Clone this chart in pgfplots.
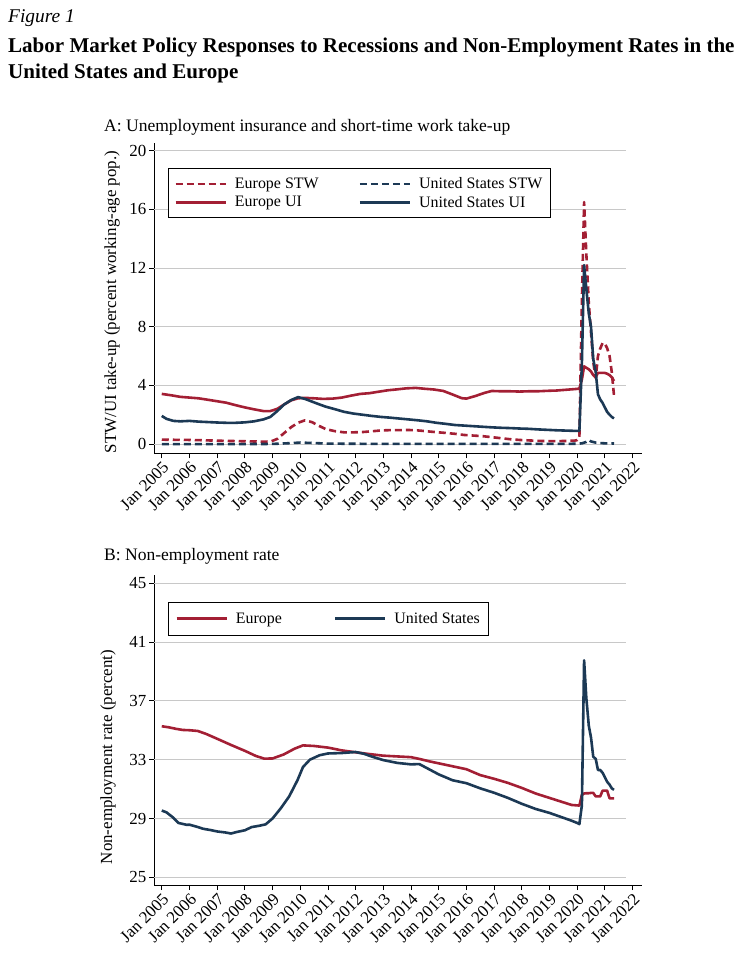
\documentclass[border=0pt]{standalone}
\usepackage{fontspec}
\setmainfont{Liberation Serif}
\usepackage{pgfplots}
\pgfplotsset{compat=1.18}
\definecolor{eured}{RGB}{163,31,52}
\definecolor{usnavy}{RGB}{28,57,85}
\definecolor{gridc}{RGB}{200,200,200}

\pgfplotstableread{
x y
2005.00 0.30
2005.50 0.29
2006.00 0.28
2006.50 0.26
2007.00 0.23
2007.50 0.21
2008.00 0.19
2008.50 0.17
2008.92 0.16
2009.17 0.35
2009.42 0.75
2009.67 1.15
2009.92 1.45
2010.17 1.62
2010.42 1.50
2010.67 1.25
2010.92 1.02
2011.25 0.88
2011.58 0.80
2011.92 0.80
2012.25 0.82
2012.58 0.87
2012.92 0.93
2013.25 0.95
2013.58 0.95
2013.92 0.96
2014.25 0.93
2014.58 0.87
2014.92 0.81
2015.25 0.76
2015.58 0.70
2015.92 0.62
2016.25 0.58
2016.58 0.54
2016.92 0.47
2017.25 0.40
2017.58 0.33
2017.92 0.28
2018.25 0.25
2018.58 0.22
2018.92 0.20
2019.25 0.20
2019.58 0.21
2019.92 0.24
2020.00 0.27
2020.08 0.45
2020.17 9.80
2020.25 16.50
2020.33 13.00
2020.42 9.60
2020.50 7.60
2020.58 5.60
2020.67 4.50
2020.75 6.00
2020.83 6.50
2020.92 6.90
2021.00 6.85
2021.08 6.55
2021.17 6.00
2021.25 4.90
2021.33 3.30
}\eustw

\pgfplotstableread{
x y
2005.00 3.42
2005.33 3.33
2005.67 3.22
2006.00 3.17
2006.33 3.12
2006.67 3.02
2007.00 2.92
2007.33 2.82
2007.67 2.65
2008.00 2.50
2008.33 2.37
2008.67 2.25
2008.92 2.25
2009.17 2.40
2009.42 2.70
2009.67 2.98
2009.92 3.12
2010.17 3.15
2010.50 3.12
2010.83 3.08
2011.17 3.10
2011.50 3.17
2011.83 3.30
2012.17 3.42
2012.50 3.47
2012.83 3.57
2013.17 3.67
2013.50 3.73
2013.83 3.80
2014.17 3.83
2014.50 3.77
2014.83 3.72
2015.17 3.62
2015.50 3.38
2015.83 3.13
2016.00 3.10
2016.33 3.28
2016.67 3.50
2016.92 3.62
2017.25 3.60
2017.58 3.60
2017.92 3.58
2018.25 3.60
2018.58 3.60
2018.92 3.63
2019.25 3.65
2019.58 3.70
2019.92 3.75
2020.08 3.78
2020.17 4.40
2020.25 5.30
2020.33 5.20
2020.42 5.10
2020.50 4.95
2020.58 4.70
2020.67 4.55
2020.75 4.85
2020.83 4.85
2020.92 4.85
2021.00 4.85
2021.08 4.80
2021.17 4.70
2021.25 4.55
2021.33 4.30
}\euui

\pgfplotstableread{
x y
2005.00 0.00
2006.00 0.00
2007.00 0.00
2008.00 0.00
2009.00 0.01
2009.50 0.05
2010.00 0.10
2010.50 0.07
2011.00 0.03
2012.00 0.02
2013.00 0.01
2014.00 0.01
2015.00 0.01
2016.00 0.01
2017.00 0.01
2018.00 0.01
2019.00 0.01
2020.00 0.02
2020.17 0.05
2020.33 0.15
2020.42 0.27
2020.50 0.18
2020.67 0.10
2020.83 0.07
2021.00 0.05
2021.33 0.04
}\usstw

\pgfplotstableread{
x y
2005.00 1.92
2005.17 1.72
2005.42 1.58
2005.67 1.55
2006.00 1.58
2006.33 1.53
2006.67 1.50
2007.00 1.47
2007.33 1.45
2007.67 1.45
2008.00 1.48
2008.33 1.55
2008.67 1.68
2008.92 1.85
2009.17 2.25
2009.42 2.70
2009.67 3.00
2009.92 3.20
2010.17 3.08
2010.42 2.90
2010.67 2.72
2010.92 2.55
2011.25 2.38
2011.58 2.20
2011.92 2.08
2012.25 2.00
2012.58 1.92
2012.92 1.85
2013.25 1.80
2013.58 1.74
2013.92 1.68
2014.25 1.62
2014.58 1.55
2014.92 1.45
2015.25 1.38
2015.58 1.30
2015.92 1.26
2016.25 1.22
2016.58 1.18
2016.92 1.14
2017.25 1.11
2017.58 1.09
2017.92 1.06
2018.25 1.04
2018.58 1.00
2018.92 0.97
2019.25 0.94
2019.58 0.92
2019.92 0.90
2020.08 0.90
2020.17 5.50
2020.25 12.20
2020.33 10.60
2020.42 8.90
2020.50 8.00
2020.58 5.80
2020.67 4.90
2020.75 3.40
2020.83 3.05
2020.92 2.80
2021.00 2.50
2021.08 2.20
2021.17 2.00
2021.25 1.85
2021.33 1.75
}\usui

\pgfplotstableread{
x y
2005.00 35.27
2005.25 35.20
2005.50 35.10
2005.75 35.02
2006.00 35.00
2006.30 34.95
2006.60 34.75
2007.00 34.42
2007.50 34.00
2008.00 33.60
2008.40 33.25
2008.70 33.07
2009.00 33.08
2009.40 33.35
2009.80 33.75
2010.10 33.97
2010.50 33.93
2011.00 33.82
2011.50 33.63
2012.00 33.50
2012.50 33.38
2013.00 33.27
2013.50 33.22
2014.00 33.17
2014.30 33.05
2014.70 32.87
2015.00 32.75
2015.50 32.55
2016.00 32.35
2016.50 31.95
2017.00 31.70
2017.50 31.42
2018.00 31.08
2018.50 30.70
2019.00 30.40
2019.50 30.10
2019.80 29.92
2020.08 29.88
2020.17 30.60
2020.25 30.70
2020.33 30.72
2020.42 30.72
2020.50 30.74
2020.58 30.74
2020.67 30.50
2020.75 30.50
2020.83 30.50
2020.92 30.90
2021.00 30.90
2021.08 30.90
2021.17 30.37
2021.25 30.37
2021.33 30.37
}\eune

\pgfplotstableread{
x y
2005.00 29.54
2005.17 29.42
2005.40 29.08
2005.60 28.70
2005.90 28.57
2006.00 28.58
2006.25 28.45
2006.50 28.30
2006.75 28.22
2007.00 28.12
2007.30 28.05
2007.50 27.98
2007.70 28.08
2008.00 28.20
2008.25 28.42
2008.50 28.50
2008.75 28.60
2009.00 29.00
2009.30 29.70
2009.60 30.50
2009.90 31.60
2010.10 32.50
2010.35 33.00
2010.70 33.30
2011.00 33.42
2011.50 33.45
2012.00 33.52
2012.30 33.40
2012.60 33.20
2013.00 32.97
2013.50 32.78
2014.00 32.68
2014.30 32.70
2014.60 32.40
2015.00 32.00
2015.50 31.60
2016.00 31.40
2016.50 31.05
2017.00 30.75
2017.50 30.40
2018.00 30.00
2018.50 29.65
2019.00 29.38
2019.50 29.05
2019.80 28.85
2020.00 28.70
2020.08 28.62
2020.17 29.90
2020.25 39.75
2020.33 37.20
2020.42 35.30
2020.50 34.50
2020.58 33.20
2020.67 33.05
2020.75 32.30
2020.83 32.30
2020.92 32.10
2021.00 31.80
2021.08 31.50
2021.17 31.30
2021.25 31.05
2021.33 30.95
}\usne

\pgfplotsset{
  stata/.style={
    scale only axis,
    width=487.7bp,
    xmin=2004.72, xmax=2022.33,
    axis lines=left,
    axis line style={-, black, line width=0.8bp},
    tick style={black, line width=0.8bp},
    tick align=outside,
    major tick length=5bp,
    xtick={2005,2006,...,2022},
    xticklabels={Jan 2005,Jan 2006,Jan 2007,Jan 2008,Jan 2009,Jan 2010,Jan 2011,Jan 2012,Jan 2013,Jan 2014,Jan 2015,Jan 2016,Jan 2017,Jan 2018,Jan 2019,Jan 2020,Jan 2021,Jan 2022},
    xticklabel style={rotate=45, anchor=north east, inner sep=1.5bp, font=\fontsize{17}{17}\selectfont},
    yticklabel style={font=\fontsize{17}{17}\selectfont, inner sep=2.5bp},
    /pgf/number format/assume math mode=true,
    label style={font=\fontsize{17}{17}\selectfont},
    legend cell align=left,
    legend image code/.code={\draw[##1, line width=2.6bp] (0bp,0bp) -- (50bp,0bp);},
  },
  eu/.style={color=eured, line width=2.6bp, line join=round},
  us/.style={color=usnavy, line width=2.6bp, line join=round},
  dsh/.style={dash pattern=on 7bp off 4bp},
}

\begin{document}
\begin{tikzpicture}
\path[use as bounding box] (0bp,0bp) rectangle (755bp,-969bp);

\node[anchor=base west, inner sep=0] at (8bp,-22bp) {\fontsize{19.5}{19.5}\selectfont\itshape Figure 1};
\node[anchor=base west, inner sep=0] at (8bp,-52bp) {\fontsize{21.1}{21.1}\selectfont\bfseries Labor Market Policy Responses to Recessions and Non-Employment Rates in the};
\node[anchor=base west, inner sep=0] at (8bp,-78bp) {\fontsize{21.1}{21.1}\selectfont\bfseries United States and Europe};

\node[anchor=base west, inner sep=0] at (104bp,-131bp) {\fontsize{17.6}{17.6}\selectfont A: Unemployment insurance and short-time work take-up};
\node[anchor=base west, inner sep=0] at (104bp,-560bp) {\fontsize{17.6}{17.6}\selectfont B: Non-employment rate};

\begin{axis}[stata,
  at={(154bp,-453.3bp)}, anchor=south west,
  height=310.6bp,
  ymin=-0.63, ymax=20.55,
  ytick={0,4,8,12,16,20},
  ylabel={STW/UI take-up (percent working-age pop.)},
  ylabel style={at={(axis description cs:-0.086,0.487)}, anchor=center},
  legend columns=2,
  legend style={at={(axis description cs:0.0287,0.9176)}, anchor=north west,
    draw=black, line width=0.8bp, fill=white, inner xsep=6bp, inner ysep=7bp,
    font=\fontsize{16}{16}\selectfont, row sep=2bp,
    /tikz/every even column/.append style={column sep=38bp},
    /tikz/every odd column/.append style={column sep=6bp}},
]
\pgfplotsinvokeforeach{0,4,8,12,16,20}{\draw[gridc, line width=0.7bp] (axis cs:2004.72,#1) -- (axis cs:2021.76,#1);}
\addplot[eu, dsh] table {\eustw};
\addlegendentry{Europe STW}
\addplot[us, dsh] table {\usstw};
\addlegendentry{United States STW}
\addplot[eu] table {\euui};
\addlegendentry{Europe UI}
\addplot[us] table {\usui};
\addlegendentry{United States UI}
\end{axis}

\begin{axis}[stata,
  at={(154bp,-885bp)}, anchor=south west,
  height=310bp,
  ymin=24.48, ymax=45.55,
  ytick={25,29,33,37,41,45},
  ylabel={Non-employment rate (percent)},
  ylabel style={at={(axis description cs:-0.094,0.413)}, anchor=center},
  legend columns=2,
  legend style={at={(axis description cs:0.0283,0.9129)}, anchor=north west,
    draw=black, line width=0.8bp, fill=white, inner xsep=7bp, inner ysep=8bp,
    font=\fontsize{16}{16}\selectfont,
    /tikz/every even column/.append style={column sep=50bp},
    /tikz/every odd column/.append style={column sep=6bp}},
]
\pgfplotsinvokeforeach{25,29,33,37,41,45}{\draw[gridc, line width=0.7bp] (axis cs:2004.72,#1) -- (axis cs:2021.76,#1);}
\addplot[eu] table {\eune};
\addlegendentry{Europe}
\addplot[us] table {\usne};
\addlegendentry{United States}
\end{axis}
\end{tikzpicture}
\end{document}
